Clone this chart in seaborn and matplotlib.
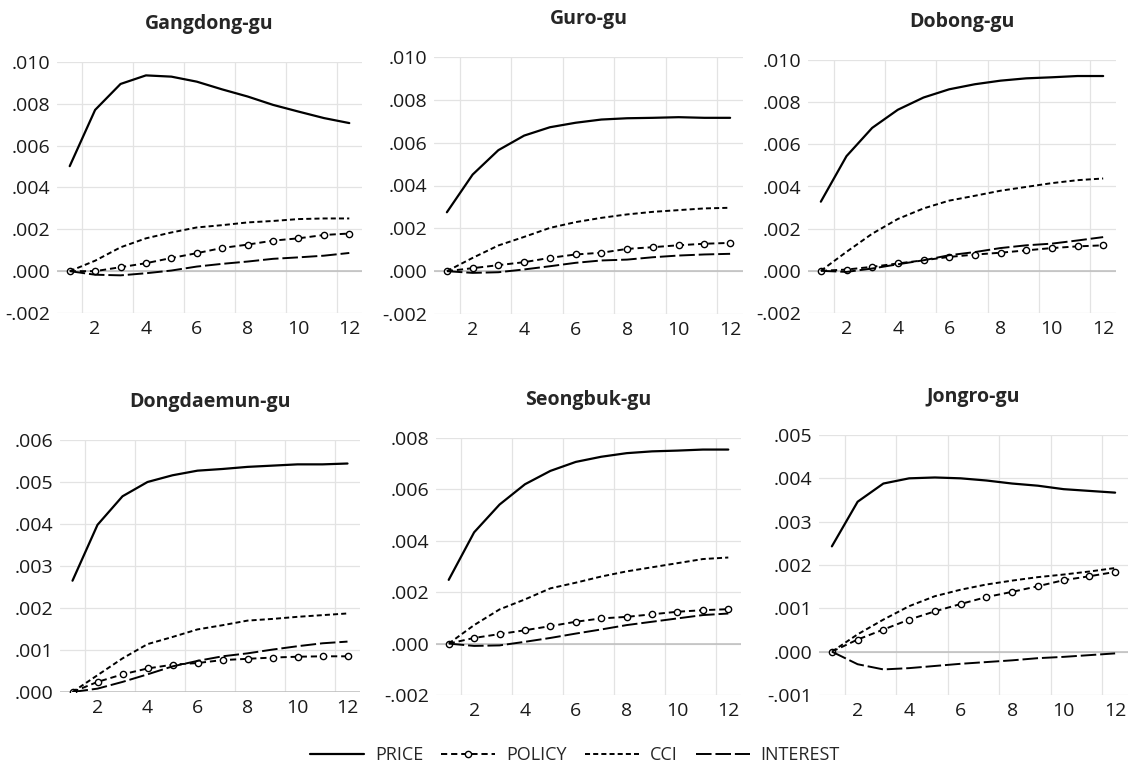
import matplotlib
matplotlib.use("Agg")
import matplotlib.pyplot as plt
import seaborn as sns
from matplotlib.ticker import FuncFormatter

# periods after the shock
periods = list(range(1, 13))

# Gangdong-gu
gangdong_price = [.00502, .00771, .00895, .00936, .00930, .00906, .00869, .00835, .00795, .00763, .00732, .00708]
gangdong_policy = [0, .00000, .00019, .00038, .00063, .00086, .00111, .00127, .00146, .00157, .00173, .00180]
gangdong_cci = [0, .00050, .00114, .00157, .00185, .00209, .00220, .00233, .00240, .00249, .00252, .00252]
gangdong_interest = [0, -.00017, -.00020, -.00010, .00003, .00022, .00035, .00046, .00059, .00066, .00074, .00087]

# Guro-gu
guro_price = [.00275, .00451, .00565, .00633, .00672, .00693, .00708, .00714, .00716, .00719, .00716, .00716]
guro_policy = [0, .00014, .00028, .00042, .00062, .00078, .00086, .00104, .00112, .00121, .00128, .00132]
guro_cci = [0, .00062, .00120, .00160, .00202, .00229, .00249, .00265, .00277, .00285, .00293, .00296]
guro_interest = [0, -.00008, -.00005, .00008, .00023, .00039, .00050, .00054, .00065, .00073, .00078, .00081]

# Dobong-gu
dobong_price = [.00328, .00544, .00678, .00764, .00822, .00861, .00885, .00902, .00913, .00918, .00924, .00924]
dobong_policy = [0, .00006, .00019, .00035, .00050, .00066, .00077, .00086, .00097, .00108, .00116, .00121]
dobong_cci = [0, .00090, .00176, .00246, .00296, .00333, .00356, .00380, .00398, .00416, .00430, .00438]
dobong_interest = [0, -.00005, .00011, .00031, .00050, .00074, .00089, .00108, .00121, .00129, .00144, .00160]

# Dongdaemun-gu
dongdaemun_price = [.00265, .00398, .00466, .00500, .00516, .00527, .00531, .00536, .00539, .00542, .00542, .00544]
dongdaemun_policy = [0, .00024, .00042, .00056, .00065, .00069, .00076, .00079, .00082, .00084, .00085, .00085]
dongdaemun_cci = [0, .00040, .00080, .00114, .00131, .00149, .00159, .00170, .00174, .00179, .00183, .00187]
dongdaemun_interest = [0, .00008, .00024, .00042, .00061, .00074, .00085, .00092, .00101, .00109, .00116, .00120]

# Seongbuk-gu
seongbuk_price = [.00248, .00433, .00541, .00620, .00672, .00707, .00727, .00741, .00748, .00751, .00755, .00755]
seongbuk_policy = [0, .00022, .00037, .00052, .00068, .00085, .00098, .00104, .00114, .00124, .00130, .00134]
seongbuk_cci = [0, .00072, .00133, .00172, .00215, .00237, .00261, .00281, .00297, .00313, .00329, .00335]
seongbuk_interest = [0, -.00009, -.00007, .00007, .00022, .00039, .00055, .00072, .00085, .00098, .00111, .00117]

# Jongro-gu
jongro_price = [.00243, .00346, .00388, .00400, .00402, .00400, .00395, .00388, .00383, .00375, .00371, .00367]
jongro_policy = [0, .00028, .00051, .00074, .00093, .00110, .00126, .00138, .00151, .00165, .00174, .00184]
jongro_cci = [0, .00040, .00074, .00105, .00128, .00143, .00155, .00164, .00172, .00178, .00185, .00193]
jongro_interest = [0, -.00029, -.00041, -.00038, -.00033, -.00028, -.00024, -.00020, -.00015, -.00012, -.00008, -.00004]

districts = ["Gangdong-gu", "Guro-gu", "Dobong-gu", "Dongdaemun-gu", "Seongbuk-gu", "Jongro-gu"]
series = [
    (gangdong_price, gangdong_policy, gangdong_cci, gangdong_interest),
    (guro_price, guro_policy, guro_cci, guro_interest),
    (dobong_price, dobong_policy, dobong_cci, dobong_interest),
    (dongdaemun_price, dongdaemun_policy, dongdaemun_cci, dongdaemun_interest),
    (seongbuk_price, seongbuk_policy, seongbuk_cci, seongbuk_interest),
    (jongro_price, jongro_policy, jongro_cci, jongro_interest),
]
y_ticks = [
    [-.002, 0, .002, .004, .006, .008, .010],
    [-.002, 0, .002, .004, .006, .008, .010],
    [-.002, 0, .002, .004, .006, .008, .010],
    [0, .001, .002, .003, .004, .005, .006],
    [-.002, 0, .002, .004, .006, .008],
    [-.001, 0, .001, .002, .003, .004, .005],
]

sns.set_style("white")
plt.rcParams["font.family"] = ["Open Sans", "DejaVu Sans"]

W, H = 1134, 768
fig = plt.figure(figsize=(W / 100, H / 100), dpi=100)

# panel rectangles in pixels: left, right, top, bottom
rects = [
    (57, 362, 62, 313), (434, 743, 57, 314), (808, 1116, 60, 313),
    (60, 360, 440, 692), (436, 741, 438, 695), (819, 1128, 435, 695),
]


def fmt(v, pos):
    s = f"{v:.3f}"
    return s.replace("0.", ".", 1)


styles = [
    dict(label="PRICE", linestyle="-", linewidth=1.6),
    dict(label="POLICY", linestyle=(0, (3.2, 2)), linewidth=1.4, marker="o",
         markersize=4.5, markerfacecolor="white", markeredgecolor="black", markeredgewidth=1),
    dict(label="CCI", linestyle=(0, (2.6, 1.6)), linewidth=1.4),
    dict(label="INTEREST", linestyle=(0, (8, 2)), linewidth=1.4),
]

axes = []
for i, (name, vals) in enumerate(zip(districts, series)):
    l, r, t, b = rects[i]
    ax = fig.add_axes([l / W, 1 - b / H, (r - l) / W, (b - t) / H])
    axes.append(ax)
    for v, st in zip(vals, styles):
        sns.lineplot(x=periods, y=v, ax=ax, color="black", **st)
    ax.set_xlim(0.5, 12.5)
    yt = y_ticks[i]
    ax.set_ylim(yt[0], yt[-1])
    ax.set_yticks(yt)
    ax.yaxis.set_major_formatter(FuncFormatter(fmt))
    ax.set_xticks([2, 4, 6, 8, 10, 12])
    for xg in [1.5, 3.5, 5.5, 7.5, 9.5, 11.5]:
        ax.axvline(xg, color="#e3e3e3", lw=0.9, zorder=0)
    for yg in yt:
        ax.axhline(yg, color="#e3e3e3", lw=0.9, zorder=0)
    ax.axhline(0, color="#bdbdbd", lw=1.1, zorder=0.5)
    for sp in ax.spines.values():
        sp.set_visible(False)
    ax.tick_params(length=0, labelsize=14, pad=5, colors="#1a1a1a")
    ax.set_title(name, fontsize=14, fontweight="bold", pad=24)
    ax.get_legend().remove()

handles, labels = axes[0].get_legend_handles_labels()
fig.legend(handles, labels, loc="center", bbox_to_anchor=(0.507, 1 - 755 / H), ncol=4,
           frameon=False, fontsize=13, handlelength=3, handletextpad=0.6, columnspacing=1.0)

fig.savefig("out.png", dpi=100)
